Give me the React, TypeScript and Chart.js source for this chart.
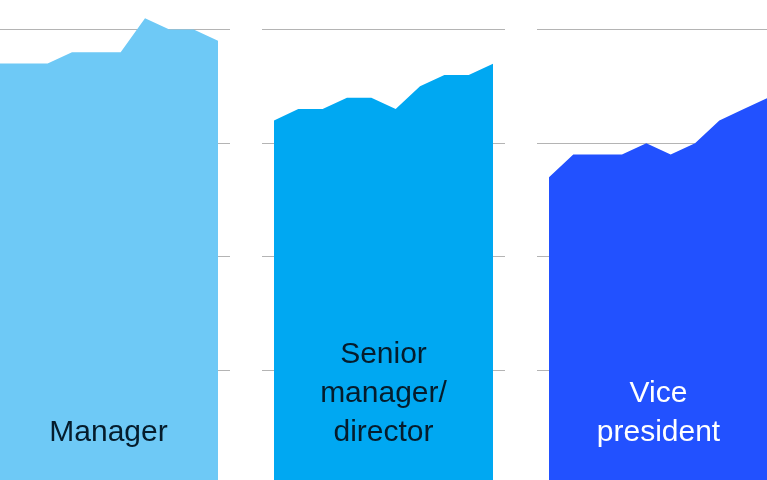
import { useEffect, useRef } from "react";
import { Chart, registerables, type ChartConfiguration, type Plugin } from "chart.js";

Chart.register(...registerables);

// ten survey points per career level
const managerValues = [74, 74, 74, 76, 76, 76, 82, 80, 80, 78];
const seniorValues = [64, 66, 66, 68, 68, 66, 70, 72, 72, 74];
const vpValues = [54, 58, 58, 58, 60, 58, 60, 64, 66, 68];

const gridValues = [0, 20, 40, 60, 80];

const managerLabel = ["Manager"];
const seniorLabel = ["Senior", "manager/", "director"];
const vpLabel = ["Vice", "president"];

interface PanelProps {
  values: number[];
  label: string[];
  fill: string;
  textColor: string;
  left: number;
}

const labelPlugin: Plugin<"line"> = {
  id: "panelLabel",
  afterDatasetsDraw(chart, _args, opts: any) {
    const { ctx } = chart;
    const xs = chart.scales.x;
    const cx = (xs.getPixelForValue(0) + xs.getPixelForValue(9)) / 2;
    const lines: string[] = opts.lines || [];
    ctx.save();
    ctx.font = '30px "Liberation Sans", Arial, sans-serif';
    ctx.fillStyle = opts.color;
    ctx.textAlign = "center";
    ctx.textBaseline = "alphabetic";
    const baseline = 441;
    lines.forEach((line, i) => {
      ctx.fillText(line, cx, baseline - (lines.length - 1 - i) * 39);
    });
    ctx.restore();
  },
};

function Panel({ values, label, fill, textColor, left }: PanelProps) {
  const canvasRef = useRef<HTMLCanvasElement>(null);
  const chartRef = useRef<Chart | null>(null);

  useEffect(() => {
    if (!canvasRef.current) return;
    chartRef.current?.destroy();

    const config: ChartConfiguration<"line"> = {
      type: "line",
      data: {
        datasets: [
          {
            data: values.map((v, i) => ({ x: i, y: v })),
            borderWidth: 0,
            borderColor: fill,
            backgroundColor: fill,
            pointRadius: 0,
            fill: "start",
            tension: 0,
          },
        ],
      },
      options: {
        animation: false,
        responsive: true,
        maintainAspectRatio: false,
        layout: { padding: 0 },
        plugins: {
          legend: { display: false },
          tooltip: { enabled: false },
          panelLabel: { lines: label, color: textColor },
        } as any,
        scales: {
          x: {
            type: "linear",
            min: -0.49,
            max: 9.49,
            display: false,
          },
          y: {
            min: 0,
            max: 85.2,
            afterBuildTicks: (axis) => {
              axis.ticks = gridValues.map((v) => ({ value: v }));
            },
            ticks: { display: false },
            border: { display: false },
            grid: { color: "#b4b4b4", lineWidth: 1, drawTicks: false },
          },
        },
      },
      plugins: [labelPlugin],
    };

    chartRef.current = new Chart(canvasRef.current, config);
    return () => {
      chartRef.current?.destroy();
      chartRef.current = null;
    };
  }, [values, label, fill, textColor]);

  return (
    <div style={{ position: "absolute", left, top: 0, width: 243, height: 484 }}>
      <canvas ref={canvasRef} />
    </div>
  );
}

export default function App() {
  return (
    <div
      style={{
        position: "fixed",
        left: 0,
        top: 0,
        width: 767,
        height: 480,
        overflow: "hidden",
        background: "#ffffff",
      }}
    >
      <Panel values={managerValues} label={managerLabel} fill="#6ec9f6" textColor="#051c2c" left={-13} />
      <Panel values={seniorValues} label={seniorLabel} fill="#00a8f2" textColor="#051c2c" left={262} />
      <Panel values={vpValues} label={vpLabel} fill="#2251ff" textColor="#ffffff" left={537} />
    </div>
  );
}
